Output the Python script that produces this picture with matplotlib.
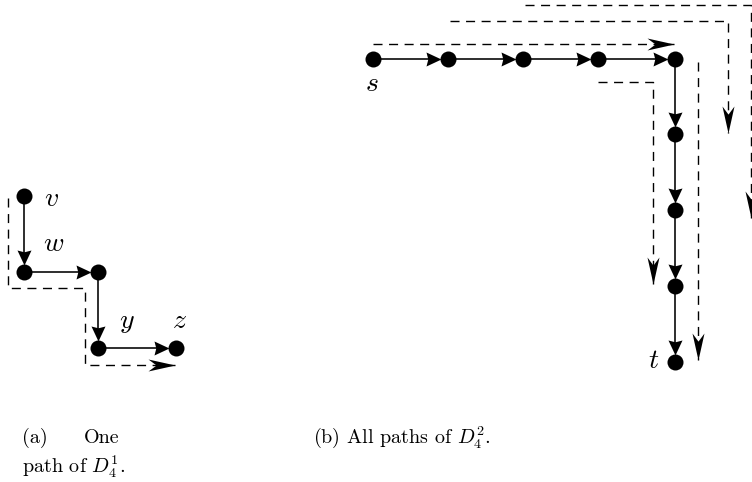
"""Draw the two path diagrams of D_4^1 and D_4^2."""
import numpy as np
import matplotlib
matplotlib.use("Agg")
import matplotlib.pyplot as plt
from matplotlib.path import Path
from matplotlib.markers import MarkerStyle

# panel (a): one path of D_4^1, node centres in pixels (y grows downwards)
A_X = [24, 24, 98, 98, 176]
A_Y = [196, 272, 272, 348, 348]
A_NAMES = ["v", "w", "", "y", "z"]
A_LABEL_X = [52, 54, 0, 127, 180]
A_LABEL_Y = [199, 244, 0, 322, 321]
A_PATH_X = [8, 8, 85, 85, 175]
A_PATH_Y = [198, 288, 288, 365, 365]

# panel (b): all paths of D_4^2
B_X = [373, 448, 523, 598, 675, 675, 675, 675, 675]
B_Y = [59, 59, 59, 59, 59, 134, 210, 286, 362]
B_NAMES = {0: "s", 8: "t"}
B_LABEL_X = {0: 372, 8: 654}
B_LABEL_Y = {0: 84, 8: 361}
B_PATHS = [
    ([373, 674], [44, 44]),
    ([598, 653, 653], [82, 82, 284]),
    ([698, 698], [62, 360]),
    ([450, 728, 728], [21, 21, 133]),
    ([525, 751, 751], [5, 5, 218]),
]

CAPTION_A1 = ("(a)", "One")
CAPTION_A2 = r"path of $D_4^1$."
CAPTION_B = r"(b) All paths of $D_4^2$."

W, H, DPI = 752, 482, 100
PT = 72.0 / DPI          # points per pixel
NODE_R = 8               # pixels

plt.rcParams["font.family"] = "cmr10"
plt.rcParams["mathtext.fontset"] = "cm"
plt.rcParams["axes.unicode_minus"] = False
plt.rcParams["lines.scale_dashes"] = False


def _head(length, width, notch):
    """Arrow head marker with its tip at the origin, pointing right."""
    verts = [(0, 0), (-length, width / 2), (-length * (1 - notch), 0),
             (-length, -width / 2), (0, 0)]
    codes = [Path.MOVETO, Path.LINETO, Path.LINETO, Path.LINETO,
             Path.CLOSEPOLY]
    return Path(verts, codes), 2 * length * PT


def _draw_head(ax, x, y, dx, dy, shape):
    path, size = shape
    # screen y points up, data y points down
    angle = np.degrees(np.arctan2(-dy, dx))
    marker = MarkerStyle(path).rotated(deg=angle)
    ax.plot([x], [y], marker=marker, markersize=size, color="black",
            markeredgewidth=0, zorder=4)


SOLID_HEAD = _head(15, 14, 0.12)
DASH_HEAD = _head(27, 12, 0.3)


def draw_graph(ax, xs, ys):
    xs, ys = np.asarray(xs, float), np.asarray(ys, float)
    for i in range(len(xs) - 1):
        dx, dy = xs[i + 1] - xs[i], ys[i + 1] - ys[i]
        d = np.hypot(dx, dy)
        ux, uy = dx / d, dy / d
        tx, ty = xs[i + 1] - ux * (NODE_R - 1), ys[i + 1] - uy * (NODE_R - 1)
        ax.plot([xs[i], tx - ux * 5], [ys[i], ty - uy * 5], color="black",
                lw=1.6 * PT, solid_capstyle="butt", zorder=2)
        _draw_head(ax, tx, ty, ux, uy, SOLID_HEAD)
    ax.plot(xs, ys, "o", color="black", markersize=2 * NODE_R * PT,
            markeredgewidth=0, zorder=5)


def draw_dashed(ax, xs, ys):
    ax.plot(xs, ys, color="black", lw=1.0, linestyle=(0, (6.5, 4.7)),
            zorder=1)
    dx, dy = xs[-1] - xs[-2], ys[-1] - ys[-2]
    _draw_head(ax, xs[-1], ys[-1], dx, dy, DASH_HEAD)


fig = plt.figure(figsize=(W / DPI, H / DPI), dpi=DPI)
ax = fig.add_axes([0, 0, 1, 1])
ax.set_xlim(0, W)
ax.set_ylim(H, 0)
ax.axis("off")

# panel (a)
draw_dashed(ax, A_PATH_X, A_PATH_Y)
draw_graph(ax, A_X, A_Y)
for name, lx, ly in zip(A_NAMES, A_LABEL_X, A_LABEL_Y):
    if name:
        ax.text(lx, ly, f"${name}$", fontsize=20, ha="center", va="center")

# panel (b)
for px, py in B_PATHS:
    draw_dashed(ax, px, py)
draw_graph(ax, B_X, B_Y)
for i, name in B_NAMES.items():
    ax.text(B_LABEL_X[i], B_LABEL_Y[i], f"${name}$", fontsize=20,
            ha="center", va="center")

# captions
ax.text(22, 443, CAPTION_A1[0], fontsize=14.5, ha="left", va="baseline")
ax.text(84, 443, CAPTION_A1[1], fontsize=14.5, ha="left", va="baseline")
ax.text(22, 473, CAPTION_A2, fontsize=14.5, ha="left", va="baseline")
ax.text(313, 443, CAPTION_B, fontsize=14.5, ha="left", va="baseline")

fig.savefig("out.png", dpi=DPI)
